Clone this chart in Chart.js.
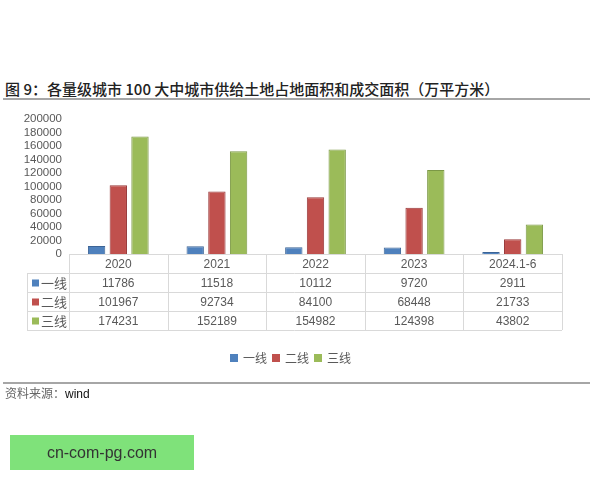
<!DOCTYPE html>
<html>
<head>
<meta charset="utf-8">
<script src="https://cdn.jsdelivr.net/npm/chart.js@4"></script>
<style>
  body { margin: 0; background: #fff; font-family: "Noto Sans CJK SC", "Liberation Sans", sans-serif; }
  #wrap { position: relative; width: 600px; height: 480px; overflow: hidden; }
  #chart_box { position: absolute; left: 0; top: 0; width: 600px; height: 480px; }
  .title { position: absolute; left: 5px; top: 78px; font-size: 15px; font-weight: 500; color: #222; white-space: nowrap; line-height: 22px; }
  .rule { position: absolute; left: 3px; width: 587px; height: 2px; background: #a6a6a6; }
  .source { position: absolute; left: 5px; top: 385px; font-size: 12px; color: #666; line-height: 16px; }
  .source b { font-family: "Liberation Sans", sans-serif; font-weight: normal; color: #111; }
  .stamp { position: absolute; left: 10px; top: 435px; width: 184px; height: 35px; background: #7fe27a;
           color: #333; font-family: "Liberation Sans", sans-serif; font-size: 16px; line-height: 35px; text-align: center; }
</style>
</head>
<body>
<div id="wrap">
  <div class="title">图 9：各量级城市 100 大中城市供给土地占地面积和成交面积（万平方米）</div>
  <div class="rule" style="top:98px"></div>
  <div id="chart_box"><canvas id="land_chart" width="600" height="480"></canvas></div>
  <div class="rule" style="top:382px"></div>
  <div class="source">资料来源：<b>wind</b></div>
  <div class="stamp">cn-com-pg.com</div>
</div>
<script>
var categories = ["2020", "2021", "2022", "2023", "2024.1-6"];
var seriesNames = ["一线", "二线", "三线"];
var tier1 = [11786, 11518, 10112, 9720, 2911];
var tier2 = [101967, 92734, 84100, 68448, 21733];
var tier3 = [174231, 152189, 154982, 124398, 43802];
var fills = ["#4f81bd", "#c0504d", "#9bbb59"];
var borders = ["#3c6496", "#98393a", "#7b9846"];

var allSeries = [tier1, tier2, tier3];

// bảng số liệu + chú thích vẽ dưới trục
var tablePlugin = {
  id: "dataTable",
  afterDraw: function (chart) {
    var c = chart.ctx;
    var area = chart.chartArea;
    var x = chart.scales.x;
    var colW = (area.right - area.left) / categories.length;
    var top = area.bottom;
    var headH = 19, rowH = 19;
    var keyLeft = 27;
    var bottom = top + headH + rowH * 3;

    c.save();
    c.strokeStyle = "#d9d9d9";
    c.lineWidth = 1;
    c.beginPath();
    // horizontal lines
    c.moveTo(area.left, top + 0.5); c.lineTo(area.right, top + 0.5);
    for (var r = 0; r <= 3; r++) {
      var y = Math.round(top + headH + r * rowH) + 0.5;
      c.moveTo(keyLeft, y); c.lineTo(area.right, y);
    }
    // vertical lines
    for (var i = 0; i <= categories.length; i++) {
      var vx = Math.round(area.left + i * colW) + 0.5;
      c.moveTo(vx, top); c.lineTo(vx, bottom);
    }
    c.moveTo(keyLeft + 0.5, top + headH); c.lineTo(keyLeft + 0.5, bottom);
    c.stroke();

    c.fillStyle = "#595959";
    c.textAlign = "center";
    c.textBaseline = "middle";
    c.font = "12px 'Liberation Sans', sans-serif";
    categories.forEach(function (cat, i) {
      c.fillText(cat, x.getPixelForValue(i), top + headH / 2 + 1);
    });
    allSeries.forEach(function (vals, s) {
      var cy = top + headH + rowH * s + rowH / 2 + 1;
      vals.forEach(function (v, i) {
        c.fillStyle = "#595959";
        c.font = "12px 'Liberation Sans', sans-serif";
        c.textAlign = "center";
        c.fillText(String(v), x.getPixelForValue(i), cy);
      });
      c.fillStyle = fills[s];
      c.fillRect(keyLeft + 5, cy - 4, 7, 7);
      c.fillStyle = "#595959";
      c.font = "13px 'Noto Sans CJK SC', sans-serif";
      c.textAlign = "left";
      c.fillText(seriesNames[s], keyLeft + 14, cy);
    });

    // legend
    var ly = 358;
    var lx = 230;
    c.font = "12px 'Noto Sans CJK SC', sans-serif";
    seriesNames.forEach(function (name, s) {
      c.fillStyle = fills[s];
      c.fillRect(lx, ly - 4, 8, 8);
      c.fillStyle = "#595959";
      c.textAlign = "left";
      c.fillText(name, lx + 13, ly);
      lx += 13 + c.measureText(name).width + 5;
    });
    c.restore();
  }
};

var ctx = document.getElementById("land_chart").getContext("2d");
var land_chart = new Chart(ctx, {
  type: "bar",
  data: {
    labels: categories,
    datasets: seriesNames.map(function (name, s) {
      return {
        label: name,
        data: allSeries[s],
        backgroundColor: fills[s],
        borderColor: borders[s],
        borderWidth: 1,
        categoryPercentage: 0.66,
        barPercentage: 0.8,
      };
    }),
  },
  options: {
    responsive: false,
    animation: false,
    layout: {
      padding: { top: 119, right: 38, bottom: 226, left: 0 },
    },
    scales: {
      x: {
        display: false,
      },
      y: {
        min: 0,
        max: 200000,
        ticks: {
          stepSize: 20000,
          autoSkip: false,
          color: "#595959",
          padding: 7,
          font: { family: "Liberation Sans", size: 11.5 },
          callback: function (v) { return String(v); },
        },
        grid: { display: false, drawTicks: false },
        border: { display: false },
        afterFit: function (scale) {
          scale.width = 69;
        },
      },
    },
    plugins: {
      legend: { display: false },
      tooltip: { enabled: false },
    },
  },
  plugins: [tablePlugin],
});
</script>
</body>
</html>
